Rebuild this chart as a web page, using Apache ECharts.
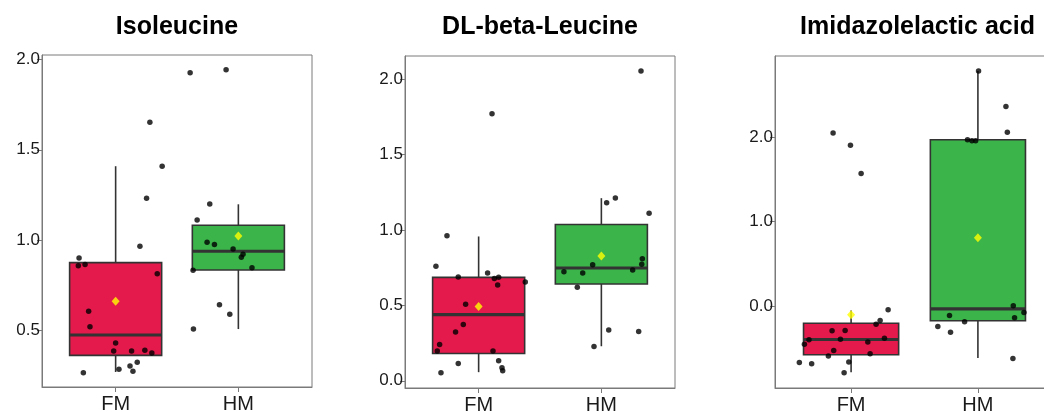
<!DOCTYPE html>
<html>
<head>
<meta charset="utf-8">
<script src="https://cdn.jsdelivr.net/npm/echarts@6/dist/echarts.min.js"></script>
<style>html,body{margin:0;padding:0;background:#fff}#c{width:1044px;height:412px}</style>
</head>
<body>
<div id="c"></div>
<script>
// ---------- data ----------
const categories = ['FM', 'HM'];
const titles = ['Isoleucine', 'DL-beta-Leucine', 'Imidazolelactic acid'];
const yTicks1 = [0.5, 1.0, 1.5, 2.0];
const yTicks2 = [0.0, 0.5, 1.0, 1.5, 2.0];
const yTicks3 = [0.0, 1.0, 2.0];
const yRange1 = [0.186, 2.025];
const yRange2 = [-0.048, 2.154];
const yRange3 = [-0.972, 2.957];

// box stats: [lower whisker, Q1, median, Q3, upper whisker]
const box1FM = [0.269, 0.361, 0.474, 0.875, 1.409];
const box1HM = [0.507, 0.834, 0.938, 1.082, 1.198];
const box2FM = [0.057, 0.181, 0.439, 0.686, 0.957];
const box2HM = [0.229, 0.642, 0.748, 1.036, 1.211];
const box3FM = [-0.787, -0.579, -0.398, -0.205, -0.055];
const box3HM = [-0.618, -0.177, -0.035, 1.965, 2.780];
// means
const mean1 = [0.661, 1.023];
const mean2 = [0.492, 0.827];
const mean3 = [-0.106, 0.807];

// jittered points: values and horizontal jitter offsets (category units)
const pts1FM =  [0.901, 0.857, 0.864, 1.653, 1.409, 1.232, 0.966, 0.814, 0.605, 0.520, 0.430, 0.386, 0.386, 0.389, 0.374, 0.323, 0.302, 0.273, 0.284, 0.265];
const jit1FM =  [-0.298, -0.304, -0.249, 0.279, 0.379, 0.252, 0.198, 0.339, -0.220, -0.209, 0.000, -0.016, 0.130, 0.238, 0.295, 0.176, 0.117, 0.141, 0.027, -0.263];
const pts1HM =  [1.926, 1.943, 1.111, 1.200, 0.988, 0.975, 0.951, 0.921, 0.905, 0.847, 0.833, 0.642, 0.589, 0.507];
const jit1HM =  [-0.393, -0.100, -0.336, -0.233, -0.255, -0.195, -0.043, 0.038, 0.024, 0.111, -0.369, -0.154, -0.070, -0.366];

const pts2FM =  [1.771, 0.961, 0.759, 0.688, 0.714, 0.679, 0.686, 0.635, 0.655, 0.507, 0.373, 0.324, 0.240, 0.198, 0.198, 0.115, 0.132, 0.086, 0.066, 0.053];
const jit2FM =  [0.109, -0.258, -0.348, -0.166, 0.073, 0.128, 0.163, 0.155, 0.380, -0.106, -0.125, -0.188, -0.318, -0.337, 0.117, -0.166, 0.163, 0.190, 0.196, -0.307];
const pts2HM =  [2.055, 1.213, 1.180, 1.111, 0.809, 0.772, 0.734, 0.770, 0.723, 0.714, 0.620, 0.337, 0.326, 0.227];
const jit2HM =  [0.323, 0.114, 0.043, 0.389, 0.334, 0.329, 0.255, -0.071, -0.305, -0.152, -0.196, 0.060, 0.304, -0.060];

const pts3FM =  [2.047, 1.902, 1.567, -0.047, -0.173, -0.217, -0.295, -0.291, -0.402, -0.394, -0.382, -0.453, -0.429, -0.528, -0.567, -0.594, -0.669, -0.685, -0.665, -0.791];
const jit3FM =  [-0.142, -0.005, 0.079, 0.292, 0.229, 0.197, -0.150, -0.047, -0.332, -0.084, 0.263, -0.368, 0.132, -0.137, 0.150, -0.179, -0.408, -0.311, -0.018, -0.055];
const pts3HM =  [2.780, 2.358, 2.055, 1.965, 1.953, 1.953, 0.000, -0.079, -0.142, -0.114, -0.189, -0.244, -0.311, -0.622];
const jit3HM =  [0.005, 0.221, 0.232, -0.082, -0.047, -0.018, 0.279, 0.363, 0.289, -0.224, -0.105, -0.316, -0.216, 0.276];

// ---------- styles ----------
const FONT = "'Liberation Sans', Arial, Helvetica, sans-serif";
const RED = '#E41A4C', GREEN = '#3BB44A', FRAME = '#7a7a7a', DARK = '#333333';
const grids = [
  {left: 42, top: 55, width: 270, height: 332},
  {left: 405, top: 56, width: 270, height: 332},
  {left: 775, top: 56, width: 279, height: 332}
];
const panels = [
  {ticks: yTicks1, range: yRange1, boxes: [box1FM, box1HM], means: mean1, pts: [[pts1FM, jit1FM], [pts1HM, jit1HM]]},
  {ticks: yTicks2, range: yRange2, boxes: [box2FM, box2HM], means: mean2, pts: [[pts2FM, jit2FM], [pts2HM, jit2HM]]},
  {ticks: yTicks3, range: yRange3, boxes: [box3FM, box3HM], means: mean3, pts: [[pts3FM, jit3FM], [pts3HM, jit3HM]]}
];

const chart = echarts.init(document.getElementById('c'), null, {renderer: 'canvas'});
const option = {
  animation: false,
  backgroundColor: '#ffffff',
  grid: grids.map(g => Object.assign({show: true, borderColor: FRAME, borderWidth: 1, backgroundColor: 'transparent',
    containLabel: false, outerBoundsMode: 'none'}, g)),
  graphic: titles.map((t, i) => ({
    type: 'text',
    x: grids[i].left + grids[i].width / 2 + (i === 2 ? 3 : 0),
    y: 27,
    style: {text: t, font: 'bold 25px ' + FONT, fill: '#000', textAlign: 'center', textVerticalAlign: 'middle'}
  })),
  xAxis: panels.map((p, i) => ({
    type: 'value', gridIndex: i, min: 0.4, max: 2.6,
    axisLine: {show: true, onZero: false, lineStyle: {color: FRAME, width: 1}},
    axisTick: {show: true, length: 5, customValues: [1, 2], lineStyle: {color: FRAME, width: 1}},
    axisLabel: {customValues: [1, 2], margin: 7, fontSize: 20, fontFamily: FONT, color: '#1a1a1a',
      formatter: v => categories[Math.round(v) - 1]},
    splitLine: {show: false}
  })),
  yAxis: panels.map((p, i) => ({
    type: 'value', gridIndex: i, min: p.range[0], max: p.range[1],
    axisLine: {show: true, onZero: false, lineStyle: {color: FRAME, width: 1}},
    axisTick: {show: true, length: 5, customValues: p.ticks, lineStyle: {color: FRAME, width: 1}},
    axisLabel: {customValues: p.ticks, margin: 2, fontSize: 17, fontFamily: FONT, color: '#1a1a1a',
      formatter: v => v.toFixed(1)},
    splitLine: {show: false}
  })),
  series: []
};

panels.forEach((p, i) => {
  // boxes
  option.series.push({
    type: 'custom', xAxisIndex: i, yAxisIndex: i, z: 2,
    data: p.boxes.map((b, k) => [k + 1].concat(b)),
    renderItem: function (params, api) {
      const x = api.value(0);
      const lo = api.value(1), q1 = api.value(2), med = api.value(3), q3 = api.value(4), hi = api.value(5);
      const w = api.size([0.75, 0])[0];
      const pLo = api.coord([x, lo]), pQ1 = api.coord([x, q1]), pMed = api.coord([x, med]);
      const pQ3 = api.coord([x, q3]), pHi = api.coord([x, hi]);
      const fill = params.dataIndex === 0 ? RED : GREEN;
      return {
        type: 'group',
        children: [
          {type: 'line', shape: {x1: pHi[0], y1: pHi[1], x2: pQ3[0], y2: pQ3[1]}, style: {stroke: DARK, lineWidth: 1.6}},
          {type: 'line', shape: {x1: pQ1[0], y1: pQ1[1], x2: pLo[0], y2: pLo[1]}, style: {stroke: DARK, lineWidth: 1.6}},
          {type: 'rect', shape: {x: pQ3[0] - w / 2, y: pQ3[1], width: w, height: pQ1[1] - pQ3[1]},
            style: {fill: fill, stroke: DARK, lineWidth: 1.6}},
          {type: 'line', shape: {x1: pMed[0] - w / 2, y1: pMed[1], x2: pMed[0] + w / 2, y2: pMed[1]},
            style: {stroke: DARK, lineWidth: 3.2}}
        ]
      };
    }
  });
  // points
  const pointData = [];
  p.pts.forEach((pair, k) => {
    pair[0].forEach((v, j) => pointData.push([k + 1 + pair[1][j], v]));
  });
  option.series.push({
    type: 'scatter', xAxisIndex: i, yAxisIndex: i, z: 3,
    symbol: 'circle', symbolSize: 5.5,
    itemStyle: {color: '#000000'},
    data: pointData
  });
  // means
  option.series.push({
    type: 'scatter', xAxisIndex: i, yAxisIndex: i, z: 4,
    symbol: 'diamond', symbolSize: [8, 9],
    itemStyle: {color: '#FFFF00'},
    data: p.means.map((m, k) => [k + 1, m])
  });
});

chart.setOption(option);
</script>
</body>
</html>
